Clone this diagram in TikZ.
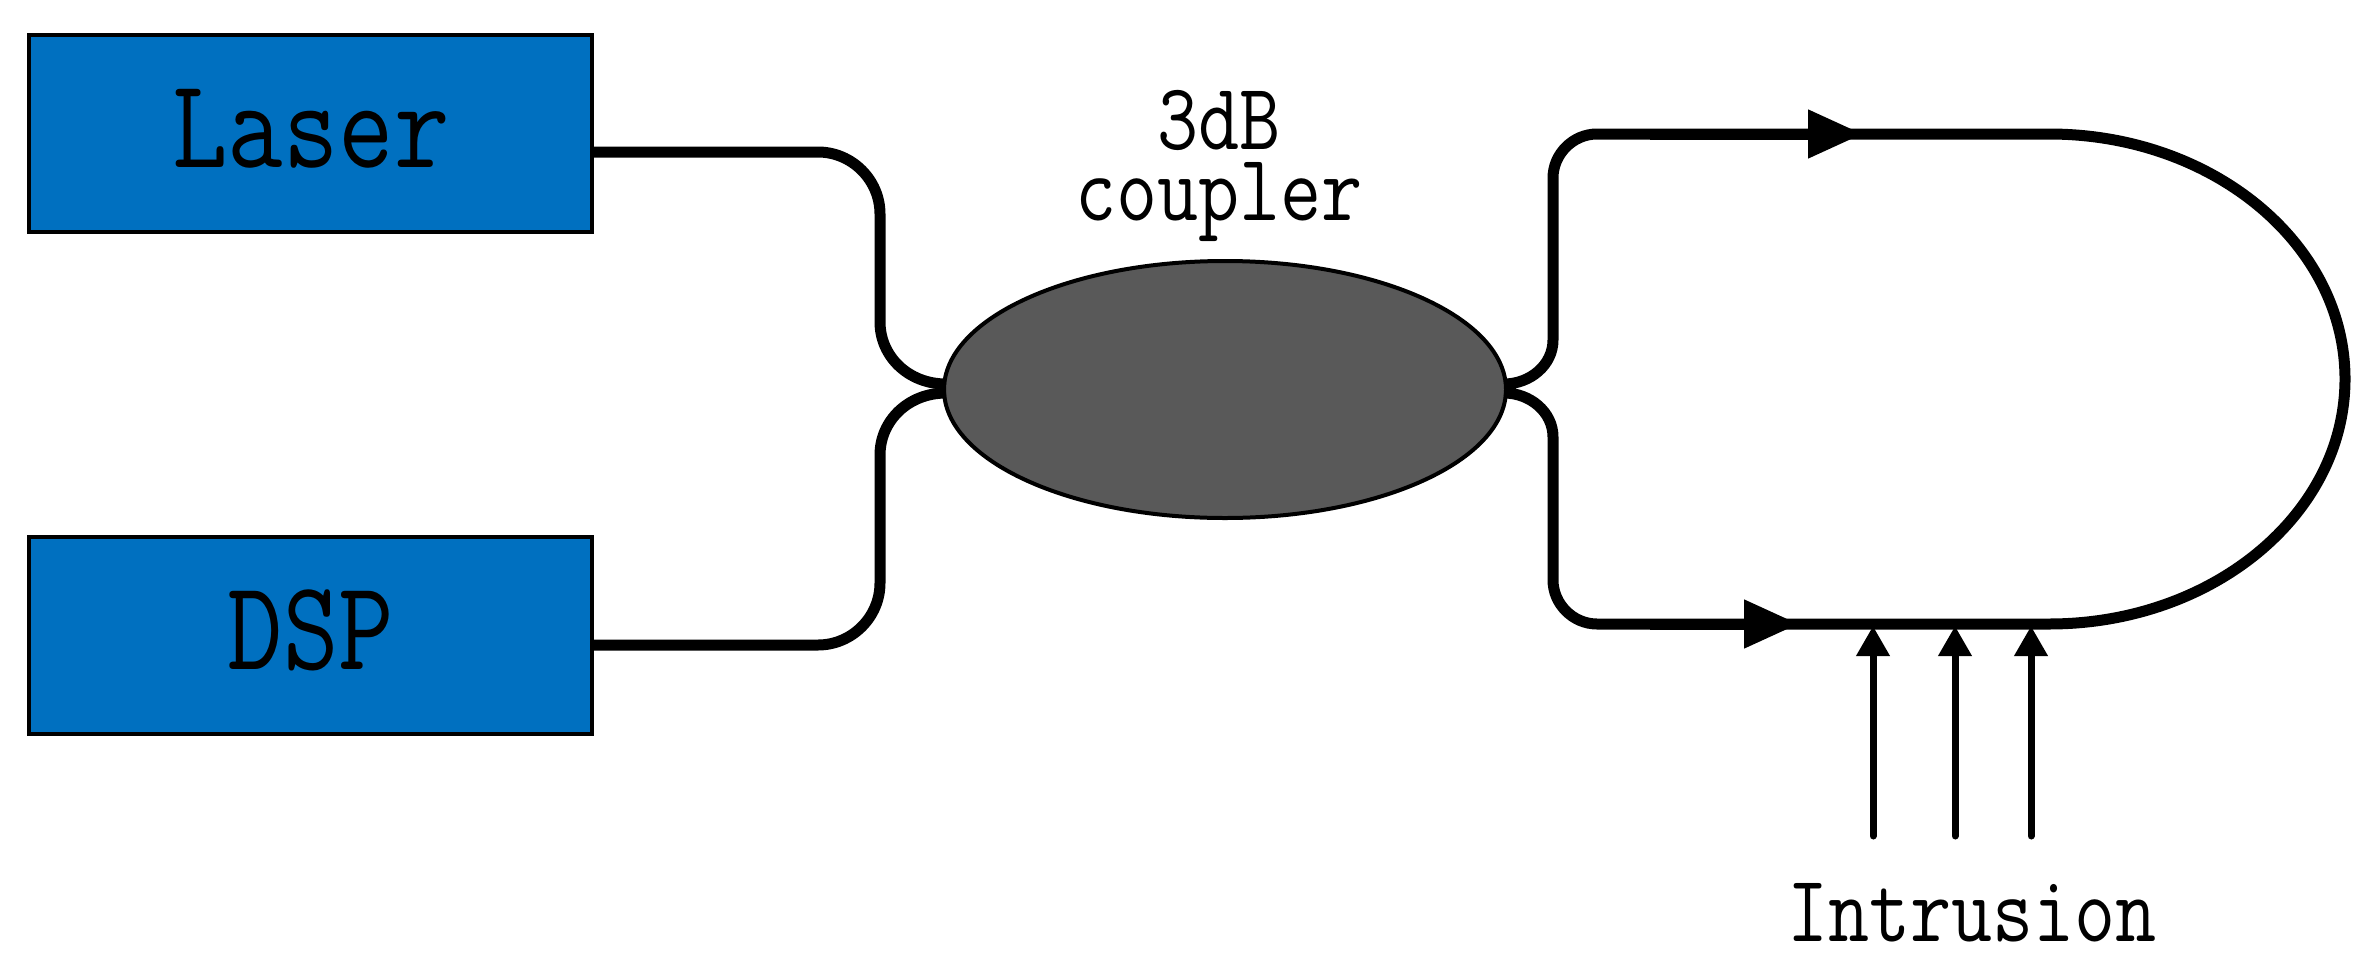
\documentclass[tikz,border=0pt]{standalone}
\usetikzlibrary{arrows.meta,shapes.geometric}
\definecolor{boxblue}{HTML}{0070C0}
\definecolor{coupgray}{HTML}{595959}
\tikzset{
  x=1pt,y=-1pt,
  block/.style={draw=black,line width=4pt,fill=boxblue,rectangle,inner sep=0pt,minimum width=563pt,minimum height=197pt},
  fibre/.style={draw=black,line width=11pt,line join=round},
  bigtext/.style={font=\ttfamily\fontsize{128}{128}\selectfont,xscale=.84,inner sep=0pt,anchor=base},
  smalltext/.style={font=\ttfamily\fontsize{95}{71}\selectfont,xscale=.84,inner sep=0pt},
  flowtip/.style={-{Triangle[length=55pt,width=46pt]},line width=11pt},
  hit/.style={-{Triangle[length=30pt,width=32pt]},line width=7pt,line cap=round}
}
\begin{document}
\begin{tikzpicture}
\useasboundingbox (0,0) rectangle (2380,972);
\node[block] (laser) at (310.5,133.5) {};
\node[block] (dsp) at (310.5,635.5) {};
\node[bigtext] (lasertxt) at (311,167) {Laser};
\node[bigtext] (dsptxt) at (311,669) {DSP};
\node[draw=black,line width=4pt,fill=coupgray,ellipse,inner sep=0pt,minimum width=562pt,minimum height=257pt] (coupler) at (1225,389.5) {};
\node[smalltext,align=center,anchor=base] (t1) at (1219,220) {3dB\\coupler};
\node[smalltext,anchor=base] (intr) at (1972,941) {Intrusion};
\coordinate (lout) at (594,152);
\coordinate (dout) at (594,645);
\coordinate (cinA) at (946,384);
\coordinate (cinB) at (946,393);
\coordinate (coutA) at (1504,384);
\coordinate (coutB) at (1504,393);
\coordinate (topstart) at (1650,134);
\coordinate (toptip) at (1863,134);
\coordinate (botstart) at (1650,624);
\coordinate (bottip) at (1799,624);
\coordinate (i1a) at (1873,836);\coordinate (i1b) at (1873,626);
\coordinate (i2a) at (1955,836);\coordinate (i2b) at (1955,626);
\coordinate (i3a) at (2031,836);\coordinate (i3b) at (2031,626);
\draw[fibre] (lout) -- (818,152) .. controls (852,152) and (880,180) .. (880,214) -- (880,322) .. controls (880,356) and (908,384) .. (cinA);
\draw[fibre] (dout) -- (818,645) .. controls (852,645) and (880,617) .. (880,583) -- (880,455) .. controls (880,421) and (908,393) .. (cinB);
\draw[fibre] (coutA) .. controls (1530,384) and (1553,365) .. (1553,340) -- (1553,178) .. controls (1553,154) and (1573,134) .. (1597,134) -- (2049,134) arc[start angle=90,end angle=-90,x radius=296pt,y radius=245pt] -- (1597,624) .. controls (1573,624) and (1553,604) .. (1553,580) -- (1553,437) .. controls (1553,412) and (1530,393) .. (coutB);
\draw[flowtip] (topstart) -- (toptip);
\draw[flowtip] (botstart) -- (bottip);
\draw[hit] (i1a) -- (i1b);
\draw[hit] (i2a) -- (i2b);
\draw[hit] (i3a) -- (i3b);
\end{tikzpicture}
\end{document}
